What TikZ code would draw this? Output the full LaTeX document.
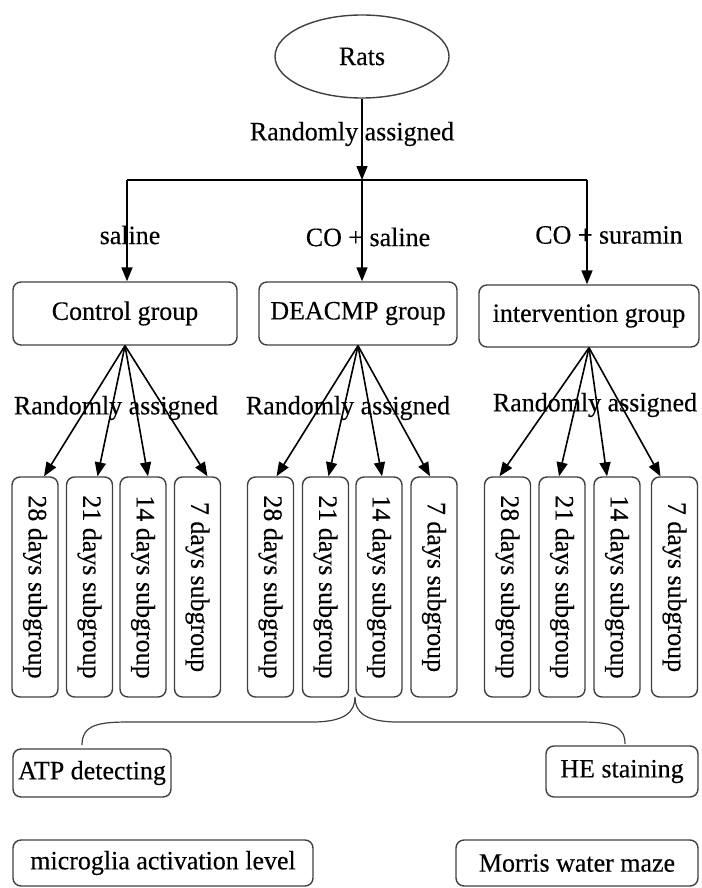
\documentclass[tikz,border=0pt]{standalone}
\usepackage{fontspec}
\setmainfont{Liberation Serif}[FakeStretch=0.98,FakeBold=0.3]
\usetikzlibrary{arrows.meta,shapes.geometric}
\begin{document}
\begin{tikzpicture}[x=1pt,y=-1pt,
  font=\fontsize{26.5}{32}\selectfont,
  line width=1.6pt,
  arr/.style={-{Triangle[length=14pt,width=11pt]}},
  box/.style={draw=black!75, line width=1.4pt, rounded corners=8pt, inner sep=0pt, align=center},
  sub/.style={box, minimum width=46pt, minimum height=220pt},
  lbl/.style={inner sep=0pt}]
\useasboundingbox (0,0) rectangle (701,888);

% top
\node[draw=black!75, line width=1.4pt, ellipse, minimum width=174pt, minimum height=83pt, inner sep=0pt] (rats) at (362,56.5) {Rats};
\coordinate (j) at (362,180);
\coordinate (jl) at (127,180);
\coordinate (jr) at (587,180);

% groups
\node[box, minimum width=224pt, minimum height=63pt] (ctrl) at (125,313.5) {Control group};
\node[box, minimum width=198pt, minimum height=63pt] (deac) at (358,313.5) {DEACMP group};
\node[box, minimum width=220pt, minimum height=62pt] (intv) at (589,316) {\raisebox{5pt}{intervention group}};

\draw[arr] (rats.south) -- (j);
\draw (jl) -- (jr);
\draw[arr] (jl) -- (jl |- ctrl.north);
\draw[arr] (j) -- (j |- deac.north);
\draw[arr] (jr) -- (jr |- intv.north);

\node[lbl] (l0) at (352,134) {Randomly assigned};
\node[lbl] (l1) at (130,235) {saline};
\node[lbl] (l2) at (368,237) {CO + saline};
\node[lbl] (l3) at (609,235) {CO + suramin};

% subgroups
\node[sub] (c1) at (35,587)   {\rotatebox{-90}{28 days subgroup}};
\node[sub] (c2) at (89.5,587) {\rotatebox{-90}{21 days subgroup}};
\node[sub] (c3) at (143,587)  {\rotatebox{-90}{14 days subgroup}};
\node[sub] (c4) at (197.5,587){\rotatebox{-90}{7 days subgroup}};
\node[sub] (d1) at (270.5,587){\rotatebox{-90}{28 days subgroup}};
\node[sub] (d2) at (325.5,587){\rotatebox{-90}{21 days subgroup}};
\node[sub] (d3) at (379,587)  {\rotatebox{-90}{14 days subgroup}};
\node[sub] (d4) at (434,587)  {\rotatebox{-90}{7 days subgroup}};
\node[sub] (i1) at (507.5,587){\rotatebox{-90}{28 days subgroup}};
\node[sub] (i2) at (562,587)  {\rotatebox{-90}{21 days subgroup}};
\node[sub] (i3) at (617,587)  {\rotatebox{-90}{14 days subgroup}};
\node[sub] (i4) at (674.5,587){\rotatebox{-90}{7 days subgroup}};

\draw[arr] (ctrl.south) -- ([xshift=9pt]c1.north);
\draw[arr] (ctrl.south) -- ([xshift=8pt]c2.north);
\draw[arr] (ctrl.south) -- ([xshift=5pt]c3.north);
\draw[arr] (ctrl.south) -- ([xshift=10pt]c4.north);
\draw[arr] (deac.south) -- ([xshift=6pt]d1.north);
\draw[arr] (deac.south) -- ([xshift=3pt]d2.north);
\draw[arr] (deac.south) -- ([xshift=3pt]d3.north);
\draw[arr] (deac.south) -- ([xshift=-4pt]d4.north);
\draw[arr] (intv.south) -- ([xshift=-8pt]i1.north);
\draw[arr] (intv.south) -- ([xshift=-3pt]i2.north);
\draw[arr] (intv.south) -- ([xshift=-10pt]i3.north);
\draw[arr] (intv.south) -- ([xshift=-14pt]i4.north);

\node[lbl] (m1) at (116,408) {Randomly assigned};
\node[lbl] (m2) at (348,408) {Randomly assigned};
\node[lbl] (m3) at (595,405) {Randomly assigned};

% bottom
\node[box, minimum width=158pt, minimum height=48pt] (atp) at (92,773) {ATP detecting};
\node[box, minimum width=152pt, minimum height=51pt] (he) at (622,771.5) {HE staining};
\node[box, minimum width=300pt, minimum height=46pt] (mic) at (163,863) {microglia activation level};
\node[box, minimum width=242pt, minimum height=46pt] (mor) at (577,863) {Morris water maze};

\draw[line width=1.2pt, draw=black!75] (82,745) .. controls (82,724) and (100,722) .. (130,722)
  -- (312,722) .. controls (345,722) and (355,712) .. (355,697)
  .. controls (355,712) and (365,722) .. (398,722)
  -- (580,722) .. controls (612,722) and (625,726) .. (625,744);
\end{tikzpicture}
\end{document}
